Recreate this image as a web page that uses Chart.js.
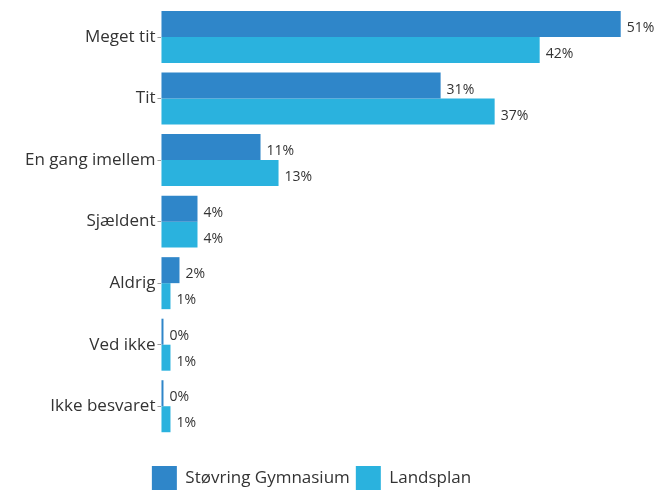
<!DOCTYPE html>
<html>
<head>
<meta charset="utf-8">
<script src="https://cdn.jsdelivr.net/npm/chart.js@4.4.0/dist/chart.umd.min.js"></script>
<style>
    html, body { margin: 0; padding: 0; background: #fff; }
    #wrap { width: 663px; height: 491px; position: relative; }
</style>
</head>
<body>
<div id="wrap"><canvas id="chart"></canvas></div>
<script>
const categories = ['Meget tit', 'Tit', 'En gang imellem', 'Sjældent', 'Aldrig', 'Ved ikke', 'Ikke besvaret'];
const schoolValues = [51, 31, 11, 4, 2, 0, 0];
const nationalValues = [42, 37, 13, 4, 1, 1, 1];
const seriesNames = ['Støvring Gymnasium', 'Landsplan'];

const FONT = 'Open Sans, Noto Sans, sans-serif';
const TEXT = '#333333';

// draws "51%" style labels right of each bar
const valueLabels = {
    id: 'valueLabels',
    afterDatasetsDraw(chart) {
        const c = chart.ctx;
        c.save();
        c.font = '14px ' + FONT;
        c.fillStyle = TEXT;
        c.textBaseline = 'middle';
        c.textAlign = 'left';
        chart.data.datasets.forEach((ds, i) => {
            chart.getDatasetMeta(i).data.forEach((bar, j) => {
                c.fillText(ds.data[j] + '%', bar.x + 6, bar.y + 4);
            });
        });
        c.restore();
    }
};

new Chart(document.getElementById('chart'), {
    type: 'bar',
    data: {
        labels: categories,
        datasets: [
            { label: seriesNames[0], data: schoolValues, backgroundColor: '#2f86c9', clip: false, minBarLength: 2, barPercentage: 1, categoryPercentage: 0.845 },
            { label: seriesNames[1], data: nationalValues, backgroundColor: '#2ab2de', clip: false, minBarLength: 2, barPercentage: 1, categoryPercentage: 0.845 }
        ]
    },
    options: {
        indexAxis: 'y',
        responsive: true,
        maintainAspectRatio: false,
        animation: false,
        layout: { padding: { top: 0, right: 63, left: 23, bottom: -9 } },
        plugins: {
            legend: {
                position: 'bottom',
                labels: {
                    color: TEXT,
                    boxWidth: 25,
                    boxHeight: 24,
                    padding: 6,
                    font: { size: 17, family: FONT }
                }
            },
            tooltip: { enabled: false }
        },
        scales: {
            x: {
                min: 0,
                max: 48.7,
                grid: { display: false },
                border: { display: false },
                ticks: { display: false },
                afterFit(scale) { scale.height = 23; }
            },
            y: {
                border: { display: false },
                grid: { offset: false, drawOnChartArea: false, drawTicks: true, tickLength: 4, color: '#999' },
                ticks: { color: TEXT, padding: 2, font: { size: 17, family: FONT, lineHeight: 0.5 } }
            }
        }
    },
    plugins: [valueLabels]
});
</script>
</body>
</html>
